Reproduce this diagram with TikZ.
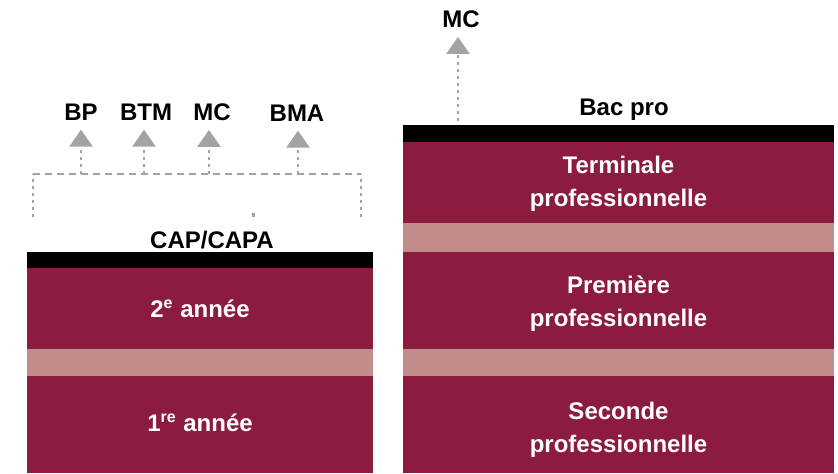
\documentclass[tikz,border=0pt]{standalone}
\usepackage{fontspec}
\setmainfont{Liberation Sans}
\usetikzlibrary{positioning,arrows.meta}
\definecolor{bordeaux}{HTML}{8B1C3D}
\definecolor{rosebande}{HTML}{C28C8A}
\definecolor{gristrait}{HTML}{A3A3A3}
\tikzset{barre/.style={fill=black,inner sep=0pt,outer sep=0pt,minimum height=8pt},
	 annee/.style={fill=bordeaux,inner sep=0pt,outer sep=0pt},
	 bande/.style={fill=rosebande,inner sep=0pt,outer sep=0pt},
	 texte/.style={text=white,align=center,inner sep=0pt,
	   font=\fontsize{12}{16.5}\selectfont\bfseries},
	 diplome/.style={inner sep=0pt,font=\fontsize{12}{14}\selectfont\bfseries},
	 fleche/.style={gristrait,line width=1.2pt,dash pattern=on 1.5pt off 2pt,
	   -{Triangle[width=11.5pt,length=8.5pt]},shorten >=4.5pt},
	 lien/.style={gristrait,line width=1.2pt,dash pattern=on 3.5pt off 2.5pt},
	 node distance = 0pt
	 }

\begin{document}
\begin{tikzpicture}[x=0.5pt,y=-0.5pt]
	\clip (0,0) rectangle (838,473);

	% CAP / CAPA
	\node[barre,minimum width=173pt,anchor=north west] (barcap) at (27,252) {};
	\node[annee,minimum width=173pt,minimum height=40.5pt] (an2) [below=of barcap] {};
	\node[bande,minimum width=173pt,minimum height=13.5pt] (bc1) [below=of an2] {};
	\node[annee,minimum width=173pt,minimum height=48.5pt] (an1) [below=of bc1] {};
	\node[texte] (tan2) at (an2.center) {2\textsuperscript{e} année};
	\node[texte] (tan1) at ([yshift=1pt]an1.center) {1\textsuperscript{re} année};
	\node[diplome] (cap) at (212,240) {CAP/CAPA};

	% Bac pro
	\node[barre,minimum width=215.5pt,minimum height=8.5pt,anchor=north west] (barbac) at (403,125) {};
	\node[annee,minimum width=215.5pt,minimum height=40.5pt] (term) [below=of barbac] {};
	\node[bande,minimum width=215.5pt,minimum height=14.5pt] (bp1) [below=of term] {};
	\node[annee,minimum width=215.5pt,minimum height=48.5pt] (prem) [below=of bp1] {};
	\node[bande,minimum width=215.5pt,minimum height=13.5pt] (bp2) [below=of prem] {};
	\node[annee,minimum width=215.5pt,minimum height=48.5pt] (sec) [below=of bp2] {};
	\node[texte] (tterm) at ([yshift=-0.5pt]term.center) {Terminale\\professionnelle};
	\node[texte] (tprem) at ([yshift=-1.5pt]prem.center) {Première\\professionnelle};
	\node[texte] (tsec) at ([yshift=-2.5pt]sec.center) {Seconde\\professionnelle};
	\node[diplome] (bac) at (624,110) {Bac pro};

	% poursuites apres le CAP
	\node[diplome] (bp) at (81,112) {BP};
	\node[diplome] (btm) at (146,112) {BTM};
	\node[diplome] (mc) at (212,112) {MC};
	\node[diplome] (bma) at (297,113) {BMA};
	\coordinate (gauche) at (33,217); \coordinate (droite) at (361,217);
	\coordinate (jbp) at (81,174); \coordinate (jbtm) at (144,174);
	\coordinate (jmc) at (209,174); \coordinate (jbma) at (298,174);
	\draw [lien,dash pattern=on 1.5pt off 2pt] (gauche) -- (gauche |- jbp);
	\draw [lien,dash pattern=on 1.5pt off 2pt] (droite) -- (droite |- jbp);
	\draw [lien] (gauche |- jbp) -- (droite |- jbp);
	\draw [fleche] (jbp) to (jbp |- bp.south); \draw [fleche] (jbtm) to (jbtm |- btm.south);
	\draw [fleche] (jmc) to (jmc |- mc.south); \draw [fleche] (jbma) to (jbma |- bma.south);
	\fill [gristrait] (252,213) rectangle (255,217);

	% poursuite apres le bac pro
	\node[diplome] (mchaut) at (461,19) {MC};
	\coordinate (depart) at (458,121);
	\draw [fleche] (depart) to (depart |- mchaut.south);
\end{tikzpicture}
\end{document}
